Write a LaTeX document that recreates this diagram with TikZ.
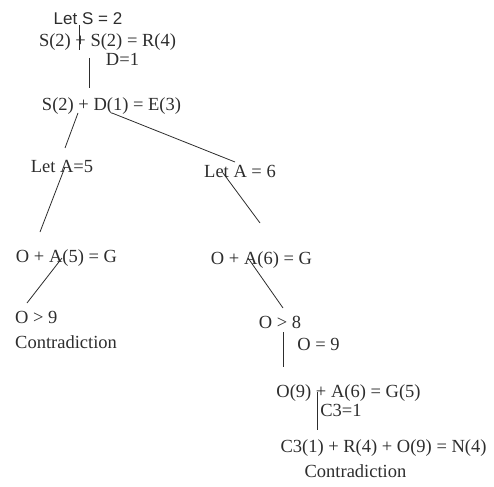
\documentclass[tikz,border=0pt]{standalone}
\usepackage{fontspec}
\usepackage{tikz}
\usetikzlibrary{calc}
\setmainfont{Liberation Serif}
\newfontfamily\headfont{Liberation Sans}
\definecolor{TInk}{RGB}{45,45,45}

\begin{document}
\begin{tikzpicture}[
    x=1pt, y=-1pt,
    eqtext/.style={inner sep=0pt, anchor=base, text=TInk,
      font=\fontsize{18.5}{22}\selectfont},
    linkline/.style={draw=TInk, line width=0.8pt}
  ]
  \useasboundingbox (0,0) rectangle (494,486);

  % first steps
  \node[eqtext, font=\headfont\fontsize{17}{20}\selectfont] (letS) at (88,25) {Let S = 2};
  \node[eqtext] (eqSR) at (107.5,47) {S(2) + S(2) = R(4)};
  \node[eqtext] (setD) at (122.5,66) {D=1};
  \node[eqtext] (eqSD) at (111.5,111) {S(2) + D(1) = E(3)};

  % two branches for A
  \node[eqtext] (letA5) at (62,173) {Let A=5};
  \node[eqtext] (letA6) at (240,178) {Let A = 6};
  \node[eqtext] (eqA5) at (66.5,262) {O + A(5) = G};
  \node[eqtext] (eqA6) at (261.5,264) {O + A(6) = G};

  % left branch ends
  \node[eqtext, anchor=base west] (oNine) at (15,323) {O > 9};
  \node[eqtext, anchor=base west] (contraL) at (15,348) {Contradiction};

  % right branch
  \node[eqtext] (oEight) at (280,328) {O > 8};
  \node[eqtext] (setO) at (318.5,350) {O = 9};
  \node[eqtext] (eqOG) at (348.5,397) {O(9) + A(6) = G(5)};
  \node[eqtext] (setC) at (341,416) {C3=1};
  \node[eqtext] (eqCN) at (383.5,452) {C3(1) + R(4) + O(9) = N(4)};
  \node[eqtext] (contraR) at (355.5,477) {Contradiction};

  % connectors
  \draw[linkline] ($(letS.base)+(-9,0)$) -- ($(eqSR.base)+(-28.5,3)$);
  \draw[linkline] ($(eqSR.base)+(-18.5,11)$) -- ($(eqSD.base)+(-22.5,-23)$);
  \draw[linkline] ($(eqSD.base)+(-33.5,2)$) -- ($(letA5.base)+(3,-25)$);
  \draw[linkline] ($(eqSD.base)+(0.5,2)$) -- ($(letA6.base)+(-5,-16)$);
  \draw[linkline] ($(letA5.base)+(3,-6)$) -- ($(eqA5.base)+(-26.5,-30)$);
  \draw[linkline] ($(letA6.base)+(-17,-5)$) -- ($(eqA6.base)+(-1.5,-41)$);
  \draw[linkline] ($(eqA5.base)+(-4.5,-4)$) -- ($(oNine.base west)+(12,-20)$);
  \draw[linkline] ($(eqA6.base)+(-13.5,-6)$) -- ($(oEight.base)+(3,-20)$);
  \draw[linkline] ($(oEight.base)+(3,4)$) -- ($(eqOG.base)+(-65.5,-30)$);
  \draw[linkline] ($(eqOG.base)+(-31.5,-5)$) -- ($(eqCN.base)+(-66.5,-22)$);
\end{tikzpicture}
\end{document}
